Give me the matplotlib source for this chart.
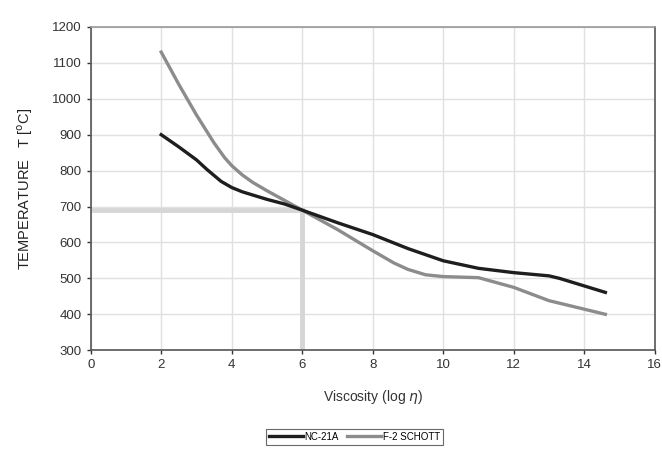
import numpy as np
import matplotlib.pyplot as plt

plt.rcParams['font.family'] = ['Liberation Sans', 'DejaVu Sans']

# viscosity (log eta) vs temperature
nc_x = [2, 2.5, 3, 3.3, 3.7, 4, 4.3, 4.7, 5, 5.5, 6, 7, 8, 9, 10, 11, 12, 13, 13.3, 14.6]
nc_t = [900, 866, 830, 803, 770, 753, 741, 729, 720, 707, 690, 655, 622, 583, 549, 528, 516, 507, 500, 461]

schott_x = [2, 2.5, 3, 3.5, 3.8, 4, 4.3, 4.6, 5, 5.5, 6, 7, 8, 8.6, 9, 9.5, 10, 11, 12, 13, 14.6]
schott_t = [1130, 1040, 955, 877, 836, 814, 788, 767, 744, 717, 690, 636, 577, 543, 525, 510, 505, 502, 475, 438, 400]

# working point marked on the chart
mark_x = 6
mark_t = 690

fig = plt.figure(figsize=(6.62, 4.49), dpi=100)
ax = fig.add_axes([0.137, 0.22, 0.852, 0.72])

ax.grid(True, color='#e0e0e0', linewidth=1.0)
ax.set_axisbelow(True)

ax.plot([0, mark_x], [mark_t, mark_t], color='#d6d6d6', linewidth=3.5, zorder=1)
ax.plot([mark_x, mark_x], [300, mark_t], color='#d6d6d6', linewidth=3.5, zorder=1)

ax.plot(nc_x, nc_t, color='#1e1e1e', linewidth=2.4, label='NC-21A', zorder=3)
ax.plot(schott_x, schott_t, color='#8c8c8c', linewidth=2.4, label='F-2 SCHOTT', zorder=2)

ax.set_xlim(0, 16)
ax.set_ylim(300, 1200)
ax.set_xticks(np.arange(0, 17, 2))
ax.set_yticks(np.arange(300, 1201, 100))
ax.tick_params(labelsize=9.5, colors='#333333', length=3, width=1)

for side in ['left', 'bottom', 'right']:
    ax.spines[side].set_color('#555555')
    ax.spines[side].set_linewidth(1.2)
ax.spines['top'].set_color('#999999')
ax.spines['top'].set_linewidth(1.2)

ax.set_xlabel('Viscosity (log $\\it{\\eta}$)', fontsize=10, color='#333333', labelpad=12)
ax.set_ylabel('TEMPERATURE   T [$^{\\mathrm{o}}$C]', fontsize=10.5, color='#222222', labelpad=12)

leg = fig.legend(loc='center', bbox_to_anchor=(0.535, 0.027), ncol=2, fontsize=7,
                 frameon=True, fancybox=False, edgecolor='#444444',
                 handlelength=3.5, handletextpad=0.2, columnspacing=0.8,
                 borderpad=0.3)
leg.get_frame().set_linewidth(0.8)

fig.savefig('out.png', dpi=100, facecolor='white')
